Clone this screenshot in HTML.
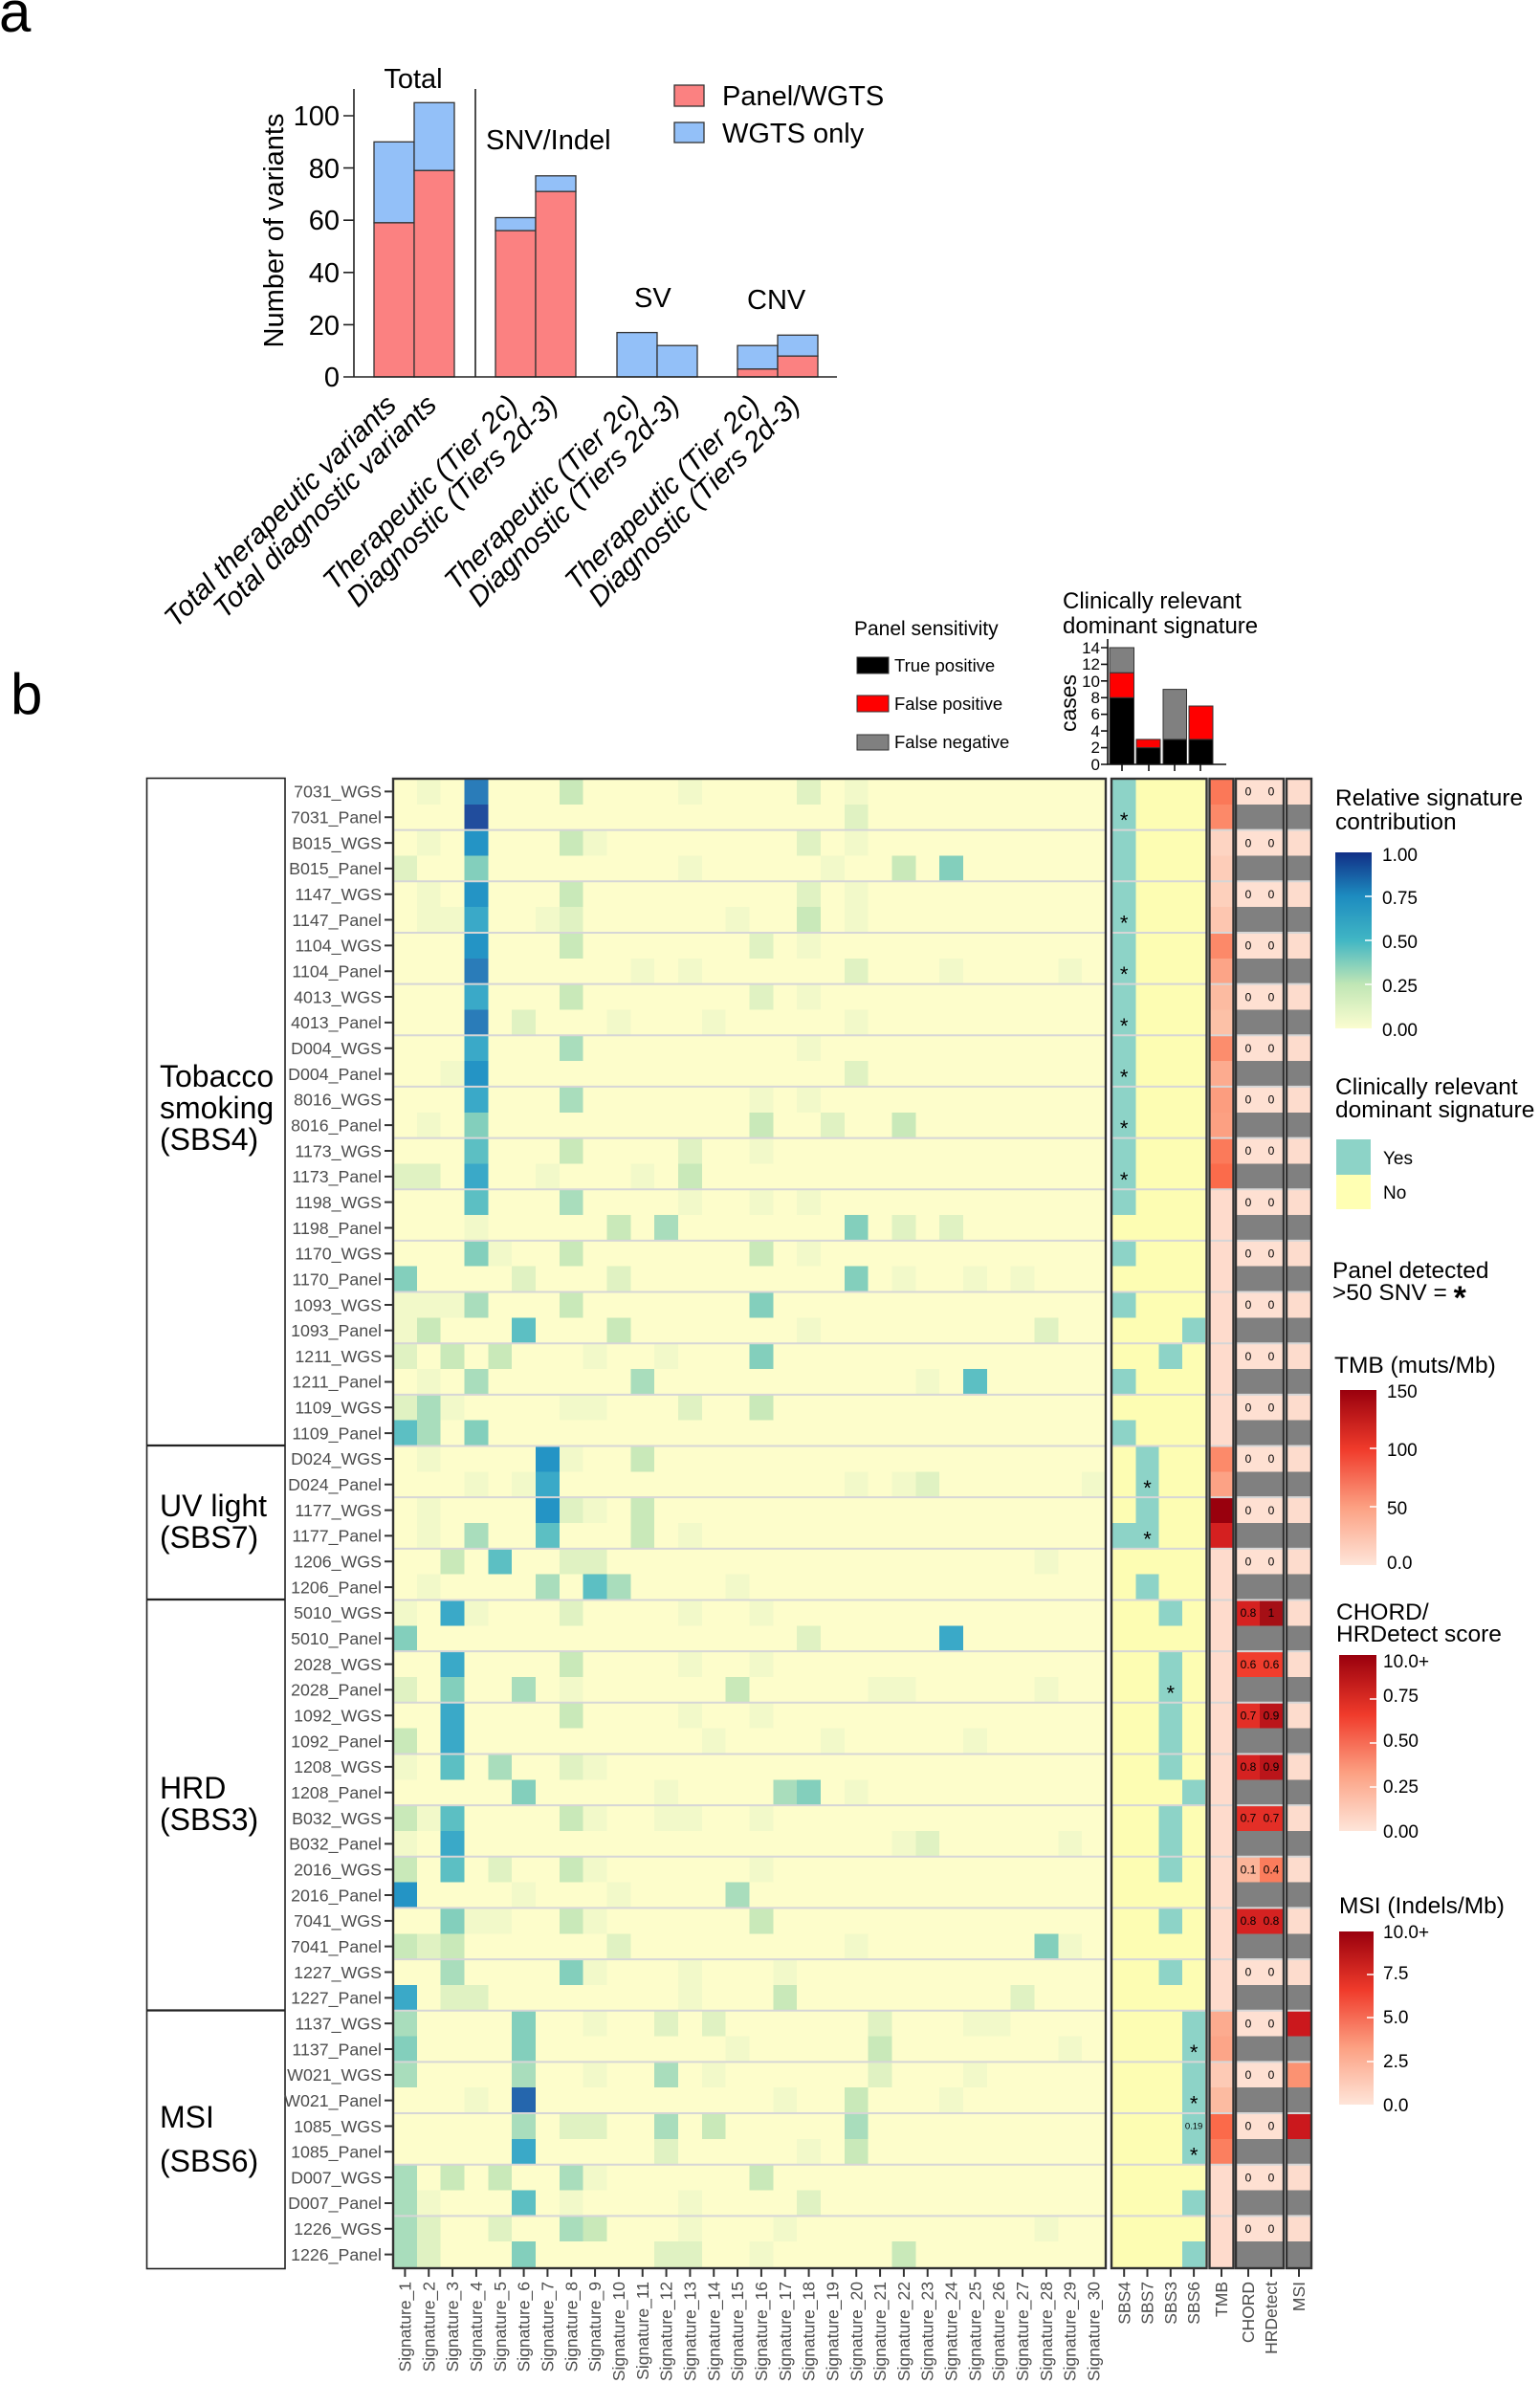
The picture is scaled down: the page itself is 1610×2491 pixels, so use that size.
<!DOCTYPE html>
<html><head><meta charset="utf-8">
<style>
html,body{margin:0;padding:0;background:#fff;}
svg{display:block;font-family:"Liberation Sans",Arial,sans-serif;}
.f{fill:#f2f9c9}.l{fill:#e0f2c2}.g{fill:#c9e9b9}.m{fill:#a9ddbc}.t{fill:#83cfbc}.c{fill:#5cbfc3}.d{fill:#3aa9c8}.b{fill:#2494c5}.k{fill:#2a7cb9}.n{fill:#214d9d}.v{fill:#2566ad}
.rl{font-size:17.8px;fill:#4d4d4d;text-anchor:end}
.xl{font-size:17.5px;fill:#4d4d4d;text-anchor:end}
.lg{font-size:19px;fill:#000}
.lt{font-size:24.5px;fill:#000}
.st{font-size:22px;fill:#000;text-anchor:middle}
.z{font-size:12px;fill:#000;text-anchor:middle}
</style></head>
<body>
<svg width="1610" height="2491" viewBox="0 0 1610 2491" xmlns="http://www.w3.org/2000/svg">
<defs>
<linearGradient id="ylg" x1="0" y1="1" x2="0" y2="0">
<stop offset="0" stop-color="#fbfdd0"/><stop offset="0.25" stop-color="#c0e6b5"/><stop offset="0.5" stop-color="#41b6c4"/><stop offset="0.75" stop-color="#1d8cc0"/><stop offset="1" stop-color="#112f86"/>
</linearGradient>
<linearGradient id="rd" x1="0" y1="1" x2="0" y2="0">
<stop offset="0" stop-color="#fee5d9"/><stop offset="0.33" stop-color="#fca082"/><stop offset="0.66" stop-color="#f03b2b"/><stop offset="1" stop-color="#99000d"/>
</linearGradient>
</defs>

<!-- ============ PANEL A ============ -->
<text x="-1" y="33" font-size="60">a</text>

<g stroke="#333" stroke-width="1.3">
<rect x="391" y="148.3" width="42" height="84.6" fill="#93c0f8"/><rect x="391" y="232.9" width="42" height="161.1" fill="#fb8181"/>
<rect x="433" y="107.3" width="42" height="71" fill="#93c0f8"/><rect x="433" y="178.3" width="42" height="215.7" fill="#fb8181"/>
<rect x="518" y="227.5" width="42" height="13.6" fill="#93c0f8"/><rect x="518" y="241.1" width="42" height="152.9" fill="#fb8181"/>
<rect x="560" y="183.8" width="42" height="16.4" fill="#93c0f8"/><rect x="560" y="200.2" width="42" height="193.8" fill="#fb8181"/>
<rect x="645" y="347.6" width="42" height="46.4" fill="#93c0f8"/>
<rect x="687" y="361.2" width="42" height="32.8" fill="#93c0f8"/>
<rect x="771" y="361.2" width="42" height="24.6" fill="#93c0f8"/><rect x="771" y="385.8" width="42" height="8.2" fill="#fb8181"/>
<rect x="813" y="350.3" width="42" height="21.9" fill="#93c0f8"/><rect x="813" y="372.2" width="42" height="21.8" fill="#fb8181"/>
</g>
<g stroke="#222" stroke-width="1.6" fill="none">
<path d="M370 93V394M359 394H875M497 93V394"/>
<path d="M359 121H370M359 175.6H370M359 230.2H370M359 284.8H370M359 339.4H370"/>
</g>
<g font-size="29" text-anchor="end">
<text x="355" y="131">100</text><text x="355" y="186">80</text><text x="355" y="240">60</text><text x="355" y="295">40</text><text x="355" y="350">20</text><text x="355" y="404">0</text>
</g>
<text transform="translate(296,241) rotate(-90)" font-size="29" text-anchor="middle">Number of variants</text>
<text x="432" y="92" font-size="29" text-anchor="middle">Total</text>
<text x="508" y="156" font-size="29">SNV/Indel</text>
<text x="663" y="321" font-size="29">SV</text>
<text x="781" y="323" font-size="29">CNV</text>
<rect x="705" y="89" width="31" height="22" fill="#fb8181" stroke="#333" stroke-width="1.3"/>
<rect x="705" y="128" width="31" height="21" fill="#93c0f8" stroke="#333" stroke-width="1.3"/>
<text x="755" y="110" font-size="29">Panel/WGTS</text>
<text x="755" y="149" font-size="29">WGTS only</text>
<g font-size="29.5" font-style="italic" text-anchor="end">
<text transform="translate(416,425) rotate(-45)">Total therapeutic variants</text>
<text transform="translate(458,425) rotate(-45)">Total diagnostic variants</text>
<text transform="translate(543,425) rotate(-45)">Therapeutic (Tier 2c)</text>
<text transform="translate(585,425) rotate(-45)">Diagnostic (Tiers 2d-3)</text>
<text transform="translate(670,425) rotate(-45)">Therapeutic (Tier 2c)</text>
<text transform="translate(712,425) rotate(-45)">Diagnostic (Tiers 2d-3)</text>
<text transform="translate(796,425) rotate(-45)">Therapeutic (Tier 2c)</text>
<text transform="translate(838,425) rotate(-45)">Diagnostic (Tiers 2d-3)</text>
</g>

<!-- ============ PANEL B ============ -->
<text x="11" y="746" font-size="60">b</text>

<text x="893" y="664" font-size="21">Panel sensitivity</text>
<rect x="896" y="687" width="33" height="17" fill="#000" stroke="#333"/>
<rect x="896" y="727" width="33" height="17" fill="#ff0000" stroke="#333"/>
<rect x="896" y="768" width="33" height="16" fill="#808080" stroke="#333"/>
<text x="935" y="702" font-size="18.5">True positive</text>
<text x="935" y="742" font-size="18.5">False positive</text>
<text x="935" y="782" font-size="18.5">False negative</text>

<text x="1111" y="636" font-size="24">Clinically relevant</text>
<text x="1111" y="662" font-size="24">dominant signature</text>
<g stroke="#333" stroke-width="1">
<rect x="1160" y="729.3" width="25.5" height="69.7" fill="#000"/><rect x="1160" y="703.2" width="25.5" height="26.1" fill="#ff0000"/><rect x="1160" y="677" width="25.5" height="26.2" fill="#808080"/>
<rect x="1188" y="781.6" width="25" height="17.4" fill="#000"/><rect x="1188" y="772.9" width="25" height="8.7" fill="#ff0000"/>
<rect x="1216" y="772.9" width="24.5" height="26.1" fill="#000"/><rect x="1216" y="720.6" width="24.5" height="52.3" fill="#808080"/>
<rect x="1243" y="772.9" width="25" height="26.1" fill="#000"/><rect x="1243" y="738" width="25" height="34.9" fill="#ff0000"/>
</g>
<g stroke="#111" stroke-width="1.6" fill="none">
<path d="M1158 668V799H1282"/>
<path d="M1151 677H1158M1151 694.4H1158M1151 711.8H1158M1151 729.3H1158M1151 746.7H1158M1151 764.1H1158M1151 781.6H1158M1151 799H1158"/>
<path d="M1173 799V806M1201 799V806M1228 799V806M1255 799V806"/>
</g>
<g font-size="17" text-anchor="end">
<text x="1150" y="683">14</text><text x="1150" y="700">12</text><text x="1150" y="718">10</text><text x="1150" y="735">8</text><text x="1150" y="752">6</text><text x="1150" y="770">4</text><text x="1150" y="787">2</text><text x="1150" y="805">0</text>
</g>
<text transform="translate(1125,735) rotate(-90)" font-size="23" text-anchor="middle">cases</text>

<g stroke="#222" fill="none">
<rect x="153.5" y="813.5" width="144.5" height="1558" stroke-width="1.6"/>
<path d="M153.5 1511H298M153.5 1672H298M153.5 2101.5H298" stroke-width="2.2"/>
</g>
<g font-size="32">
<text x="167" y="1136">Tobacco</text><text x="167" y="1169">smoking</text><text x="167" y="1202">(SBS4)</text>
<text x="167" y="1585">UV light</text><text x="167" y="1618">(SBS7)</text>
<text x="167" y="1880">HRD</text><text x="167" y="1913">(SBS3)</text>
<text x="167" y="2224">MSI</text><text x="167" y="2270">(SBS6)</text>
</g>

<g class="rl">
<text class="rl" x="399" y="833.7">7031_WGS</text><text class="rl" x="399" y="860.5">7031_Panel</text>
<text class="rl" x="399" y="887.4">B015_WGS</text><text class="rl" x="399" y="914.2">B015_Panel</text>
<text class="rl" x="399" y="941.0">1147_WGS</text><text class="rl" x="399" y="967.8">1147_Panel</text>
<text class="rl" x="399" y="994.7">1104_WGS</text><text class="rl" x="399" y="1021.5">1104_Panel</text>
<text class="rl" x="399" y="1048.3">4013_WGS</text><text class="rl" x="399" y="1075.2">4013_Panel</text>
<text class="rl" x="399" y="1102.0">D004_WGS</text><text class="rl" x="399" y="1128.8">D004_Panel</text>
<text class="rl" x="399" y="1155.6">8016_WGS</text><text class="rl" x="399" y="1182.5">8016_Panel</text>
<text class="rl" x="399" y="1209.3">1173_WGS</text><text class="rl" x="399" y="1236.1">1173_Panel</text>
<text class="rl" x="399" y="1262.9">1198_WGS</text><text class="rl" x="399" y="1289.8">1198_Panel</text>
<text class="rl" x="399" y="1316.6">1170_WGS</text><text class="rl" x="399" y="1343.4">1170_Panel</text>
<text class="rl" x="399" y="1370.3">1093_WGS</text><text class="rl" x="399" y="1397.1">1093_Panel</text>
<text class="rl" x="399" y="1423.9">1211_WGS</text><text class="rl" x="399" y="1450.7">1211_Panel</text>
<text class="rl" x="399" y="1477.6">1109_WGS</text><text class="rl" x="399" y="1504.4">1109_Panel</text>
<text class="rl" x="399" y="1531.2">D024_WGS</text><text class="rl" x="399" y="1558.1">D024_Panel</text>
<text class="rl" x="399" y="1584.9">1177_WGS</text><text class="rl" x="399" y="1611.7">1177_Panel</text>
<text class="rl" x="399" y="1638.5">1206_WGS</text><text class="rl" x="399" y="1665.4">1206_Panel</text>
<text class="rl" x="399" y="1692.2">5010_WGS</text><text class="rl" x="399" y="1719.0">5010_Panel</text>
<text class="rl" x="399" y="1745.9">2028_WGS</text><text class="rl" x="399" y="1772.7">2028_Panel</text>
<text class="rl" x="399" y="1799.5">1092_WGS</text><text class="rl" x="399" y="1826.3">1092_Panel</text>
<text class="rl" x="399" y="1853.2">1208_WGS</text><text class="rl" x="399" y="1880.0">1208_Panel</text>
<text class="rl" x="399" y="1906.8">B032_WGS</text><text class="rl" x="399" y="1933.6">B032_Panel</text>
<text class="rl" x="399" y="1960.5">2016_WGS</text><text class="rl" x="399" y="1987.3">2016_Panel</text>
<text class="rl" x="399" y="2014.1">7041_WGS</text><text class="rl" x="399" y="2041.0">7041_Panel</text>
<text class="rl" x="399" y="2067.8">1227_WGS</text><text class="rl" x="399" y="2094.6">1227_Panel</text>
<text class="rl" x="399" y="2121.4">1137_WGS</text><text class="rl" x="399" y="2148.3">1137_Panel</text>
<text class="rl" x="399" y="2175.1">W021_WGS</text><text class="rl" x="399" y="2201.9">W021_Panel</text>
<text class="rl" x="399" y="2228.8">1085_WGS</text><text class="rl" x="399" y="2255.6">1085_Panel</text>
<text class="rl" x="399" y="2282.4">D007_WGS</text><text class="rl" x="399" y="2309.2">D007_Panel</text>
<text class="rl" x="399" y="2336.1">1226_WGS</text><text class="rl" x="399" y="2362.9">1226_Panel</text>
</g>
<g transform="translate(0,814) scale(1,26.828)">
<path fill="none" stroke="#333" stroke-width="2" vector-effect="non-scaling-stroke" d="M402 0.5H411M402 1.5H411M402 2.5H411M402 3.5H411M402 4.5H411M402 5.5H411M402 6.5H411M402 7.5H411M402 8.5H411M402 9.5H411M402 10.5H411M402 11.5H411M402 12.5H411M402 13.5H411M402 14.5H411M402 15.5H411M402 16.5H411M402 17.5H411M402 18.5H411M402 19.5H411M402 20.5H411M402 21.5H411M402 22.5H411M402 23.5H411M402 24.5H411M402 25.5H411M402 26.5H411M402 27.5H411M402 28.5H411M402 29.5H411M402 30.5H411M402 31.5H411M402 32.5H411M402 33.5H411M402 34.5H411M402 35.5H411M402 36.5H411M402 37.5H411M402 38.5H411M402 39.5H411M402 40.5H411M402 41.5H411M402 42.5H411M402 43.5H411M402 44.5H411M402 45.5H411M402 46.5H411M402 47.5H411M402 48.5H411M402 49.5H411M402 50.5H411M402 51.5H411M402 52.5H411M402 53.5H411M402 54.5H411M402 55.5H411M402 56.5H411M402 57.5H411"/>
</g>

<rect x="411" y="814" width="745" height="1556" fill="#fdfdcb"/>
<g transform="translate(411,814) scale(24.833,26.828)" shape-rendering="crispEdges">
<path class="f" d="M1 0h1v1h-1zM12 0h1v1h-1zM19 0h1v1h-1zM1 2h1v1h-1zM8 2h1v1h-1zM19 2h1v1h-1zM12 3h1v1h-1zM18 3h1v1h-1zM1 4h1v1h-1zM19 4h1v1h-1zM1 5h1v1h-1zM2 5h1v1h-1zM6 5h1v1h-1zM14 5h1v1h-1zM19 5h1v1h-1zM17 6h1v1h-1zM10 7h1v1h-1zM12 7h1v1h-1zM23 7h1v1h-1zM28 7h1v1h-1zM17 8h1v1h-1zM9 9h1v1h-1zM13 9h1v1h-1zM19 9h1v1h-1zM17 10h1v1h-1zM2 11h1v1h-1zM15 12h1v1h-1zM17 12h1v1h-1zM1 13h1v1h-1zM15 14h1v1h-1zM6 15h1v1h-1zM10 15h1v1h-1zM12 16h1v1h-1zM15 16h1v1h-1zM17 16h1v1h-1zM3 17h1v1h-1zM4 18h1v1h-1zM17 18h1v1h-1zM21 19h1v1h-1zM24 19h1v1h-1zM26 19h1v1h-1zM0 20h1v1h-1zM1 20h1v1h-1zM2 20h1v1h-1zM0 21h1v1h-1zM17 21h1v1h-1zM8 22h1v1h-1zM11 22h1v1h-1zM1 23h1v1h-1zM22 23h1v1h-1zM2 24h1v1h-1zM7 24h1v1h-1zM8 24h1v1h-1zM1 26h1v1h-1zM7 26h1v1h-1zM3 27h1v1h-1zM5 27h1v1h-1zM19 27h1v1h-1zM21 27h1v1h-1zM29 27h1v1h-1zM1 28h1v1h-1zM8 28h1v1h-1zM1 29h1v1h-1zM12 29h1v1h-1zM27 30h1v1h-1zM1 31h1v1h-1zM14 31h1v1h-1zM0 32h1v1h-1zM3 32h1v1h-1zM12 32h1v1h-1zM15 32h1v1h-1zM12 34h1v1h-1zM15 34h1v1h-1zM7 35h1v1h-1zM20 35h1v1h-1zM21 35h1v1h-1zM27 35h1v1h-1zM12 36h1v1h-1zM15 36h1v1h-1zM13 37h1v1h-1zM18 37h1v1h-1zM24 37h1v1h-1zM0 38h1v1h-1zM8 38h1v1h-1zM11 39h1v1h-1zM19 39h1v1h-1zM1 40h1v1h-1zM8 40h1v1h-1zM11 40h1v1h-1zM12 40h1v1h-1zM15 40h1v1h-1zM0 41h1v1h-1zM21 41h1v1h-1zM28 41h1v1h-1zM8 42h1v1h-1zM15 42h1v1h-1zM5 43h1v1h-1zM9 43h1v1h-1zM3 44h1v1h-1zM4 44h1v1h-1zM8 44h1v1h-1zM19 45h1v1h-1zM28 45h1v1h-1zM8 46h1v1h-1zM12 46h1v1h-1zM16 46h1v1h-1zM12 47h1v1h-1zM8 48h1v1h-1zM24 48h1v1h-1zM25 48h1v1h-1zM14 49h1v1h-1zM28 49h1v1h-1zM8 50h1v1h-1zM13 50h1v1h-1zM24 50h1v1h-1zM3 51h1v1h-1zM16 51h1v1h-1zM23 51h1v1h-1zM17 53h1v1h-1zM8 54h1v1h-1zM1 55h1v1h-1zM7 55h1v1h-1zM12 55h1v1h-1zM12 56h1v1h-1zM16 56h1v1h-1zM27 56h1v1h-1zM15 57h1v1h-1z"/>
<path class="l" d="M17 0h1v1h-1zM19 1h1v1h-1zM17 2h1v1h-1zM0 3h1v1h-1zM17 4h1v1h-1zM7 5h1v1h-1zM15 6h1v1h-1zM19 7h1v1h-1zM15 8h1v1h-1zM5 9h1v1h-1zM19 11h1v1h-1zM18 13h1v1h-1zM12 14h1v1h-1zM0 15h1v1h-1zM1 15h1v1h-1zM21 17h1v1h-1zM23 17h1v1h-1zM5 19h1v1h-1zM9 19h1v1h-1zM27 21h1v1h-1zM0 22h1v1h-1zM0 24h1v1h-1zM12 24h1v1h-1zM22 27h1v1h-1zM7 28h1v1h-1zM7 30h1v1h-1zM8 30h1v1h-1zM7 32h1v1h-1zM17 33h1v1h-1zM0 35h1v1h-1zM7 38h1v1h-1zM22 41h1v1h-1zM4 42h1v1h-1zM1 45h1v1h-1zM9 45h1v1h-1zM2 47h1v1h-1zM3 47h1v1h-1zM26 47h1v1h-1zM11 48h1v1h-1zM13 48h1v1h-1zM20 48h1v1h-1zM20 50h1v1h-1zM7 52h1v1h-1zM8 52h1v1h-1zM11 53h1v1h-1zM17 55h1v1h-1zM1 56h1v1h-1zM4 56h1v1h-1zM1 57h1v1h-1zM11 57h1v1h-1zM12 57h1v1h-1z"/>
<path class="g" d="M7 0h1v1h-1zM7 2h1v1h-1zM21 3h1v1h-1zM7 4h1v1h-1zM17 5h1v1h-1zM7 6h1v1h-1zM7 8h1v1h-1zM15 13h1v1h-1zM21 13h1v1h-1zM7 14h1v1h-1zM12 15h1v1h-1zM9 17h1v1h-1zM7 18h1v1h-1zM15 18h1v1h-1zM7 20h1v1h-1zM1 21h1v1h-1zM9 21h1v1h-1zM2 22h1v1h-1zM4 22h1v1h-1zM15 24h1v1h-1zM10 26h1v1h-1zM10 28h1v1h-1zM10 29h1v1h-1zM2 30h1v1h-1zM7 34h1v1h-1zM14 35h1v1h-1zM7 36h1v1h-1zM0 37h1v1h-1zM0 40h1v1h-1zM7 40h1v1h-1zM0 42h1v1h-1zM7 42h1v1h-1zM7 44h1v1h-1zM15 44h1v1h-1zM0 45h1v1h-1zM2 45h1v1h-1zM16 47h1v1h-1zM20 49h1v1h-1zM19 51h1v1h-1zM13 52h1v1h-1zM19 53h1v1h-1zM2 54h1v1h-1zM4 54h1v1h-1zM15 54h1v1h-1zM8 56h1v1h-1zM21 57h1v1h-1z"/>
<path class="m" d="M7 10h1v1h-1zM7 12h1v1h-1zM7 16h1v1h-1zM11 17h1v1h-1zM3 20h1v1h-1zM3 23h1v1h-1zM10 23h1v1h-1zM1 24h1v1h-1zM1 25h1v1h-1zM3 29h1v1h-1zM6 31h1v1h-1zM9 31h1v1h-1zM5 35h1v1h-1zM4 38h1v1h-1zM16 39h1v1h-1zM14 43h1v1h-1zM2 46h1v1h-1zM0 48h1v1h-1zM0 50h1v1h-1zM5 50h1v1h-1zM11 50h1v1h-1zM5 52h1v1h-1zM11 52h1v1h-1zM19 52h1v1h-1zM0 54h1v1h-1zM7 54h1v1h-1zM0 55h1v1h-1zM0 56h1v1h-1zM7 56h1v1h-1zM0 57h1v1h-1z"/>
<path class="t" d="M3 3h1v1h-1zM23 3h1v1h-1zM3 13h1v1h-1zM19 17h1v1h-1zM3 18h1v1h-1zM0 19h1v1h-1zM19 19h1v1h-1zM15 20h1v1h-1zM15 22h1v1h-1zM3 25h1v1h-1zM0 33h1v1h-1zM2 35h1v1h-1zM5 39h1v1h-1zM17 39h1v1h-1zM2 44h1v1h-1zM27 45h1v1h-1zM7 46h1v1h-1zM5 48h1v1h-1zM0 49h1v1h-1zM5 49h1v1h-1zM5 57h1v1h-1z"/>
<path class="c" d="M3 14h1v1h-1zM3 16h1v1h-1zM5 21h1v1h-1zM24 23h1v1h-1zM0 25h1v1h-1zM6 29h1v1h-1zM4 30h1v1h-1zM8 31h1v1h-1zM2 38h1v1h-1zM2 40h1v1h-1zM2 42h1v1h-1zM5 55h1v1h-1z"/>
<path class="d" d="M3 5h1v1h-1zM3 8h1v1h-1zM3 10h1v1h-1zM3 12h1v1h-1zM3 15h1v1h-1zM6 27h1v1h-1zM2 32h1v1h-1zM23 33h1v1h-1zM2 34h1v1h-1zM2 36h1v1h-1zM2 37h1v1h-1zM2 41h1v1h-1zM0 47h1v1h-1zM5 53h1v1h-1z"/>
<path class="b" d="M3 2h1v1h-1zM3 4h1v1h-1zM3 6h1v1h-1zM3 11h1v1h-1zM6 26h1v1h-1zM6 28h1v1h-1zM0 43h1v1h-1z"/>
<path class="k" d="M3 0h1v1h-1zM3 7h1v1h-1zM3 9h1v1h-1z"/>
<path class="n" d="M3 1h1v1h-1z"/>
<path class="v" d="M5 51h1v1h-1z"/>
</g>

<rect x="1163" y="814" width="97.2" height="1556" fill="#fdfdb3"/>
<g transform="translate(1163,814) scale(24.3,26.828)" fill="#8dd3c7" shape-rendering="crispEdges">
<rect x="0" y="0" width="1" height="17"/><rect x="0" y="18" width="1" height="1"/><rect x="0" y="20" width="1" height="1"/>
<rect x="3" y="21" width="1" height="1"/><rect x="2" y="22" width="1" height="1"/><rect x="0" y="23" width="1" height="1"/><rect x="0" y="25" width="1" height="1"/>
<rect x="1" y="26" width="1" height="4"/><rect x="0" y="29" width="1" height="1"/><rect x="1" y="31" width="1" height="1"/>
<rect x="2" y="32" width="1" height="1"/><rect x="2" y="34" width="1" height="5"/><rect x="3" y="39" width="1" height="1"/>
<rect x="2" y="40" width="1" height="3"/><rect x="2" y="44" width="1" height="1"/><rect x="2" y="46" width="1" height="1"/>
<rect x="3" y="48" width="1" height="6"/><rect x="3" y="55" width="1" height="1"/><rect x="3" y="57" width="1" height="1"/>
</g>

<g transform="translate(1265.5,814) scale(23.5,26.828)" shape-rendering="crispEdges">
<rect x="0" y="0" width="1" height="58" fill="#fedbcc"/>
<rect y="0" width="1" height="1" fill="#fb7858"/><rect y="1" width="1" height="1" fill="#fc8969"/>
<rect y="2" width="1" height="1" fill="#fdd4c2"/><rect y="3" width="1" height="1" fill="#fdcdb9"/>
<rect y="4" width="1" height="1" fill="#fdd0bc"/><rect y="5" width="1" height="1" fill="#fdc6b0"/>
<rect y="6" width="1" height="1" fill="#fc8969"/><rect y="7" width="1" height="1" fill="#fca487"/>
<rect y="8" width="1" height="1" fill="#fcbba1"/><rect y="9" width="1" height="1" fill="#fcc1a7"/>
<rect y="10" width="1" height="1" fill="#fc8d6d"/><rect y="11" width="1" height="1" fill="#fcab8f"/>
<rect y="12" width="1" height="1" fill="#fc9d7f"/><rect y="13" width="1" height="1" fill="#fca082"/>
<rect y="14" width="1" height="1" fill="#fb7a5a"/><rect y="15" width="1" height="1" fill="#fb6b4b"/>
<rect y="26" width="1" height="1" fill="#fc8a6a"/><rect y="27" width="1" height="1" fill="#fca285"/>
<rect y="28" width="1" height="1" fill="#99000d"/><rect y="29" width="1" height="1" fill="#d42020"/>
<rect y="48" width="1" height="1" fill="#fcab8f"/><rect y="49" width="1" height="1" fill="#fca588"/>
<rect y="50" width="1" height="1" fill="#fdcab5"/><rect y="51" width="1" height="1" fill="#fcbba1"/>
<rect y="52" width="1" height="1" fill="#fb6a4a"/><rect y="53" width="1" height="1" fill="#fb7f5f"/>
</g>

<g transform="translate(1293,814) scale(24,26.828)" shape-rendering="crispEdges">
<rect x="0" y="0" width="2" height="58" fill="#fee0d2"/>
<path fill="#808080" d="M0 1h2v1h-2zM0 3h2v1h-2zM0 5h2v1h-2zM0 7h2v1h-2zM0 9h2v1h-2zM0 11h2v1h-2zM0 13h2v1h-2zM0 15h2v1h-2zM0 17h2v1h-2zM0 19h2v1h-2zM0 21h2v1h-2zM0 23h2v1h-2zM0 25h2v1h-2zM0 27h2v1h-2zM0 29h2v1h-2zM0 31h2v1h-2zM0 33h2v1h-2zM0 35h2v1h-2zM0 37h2v1h-2zM0 39h2v1h-2zM0 41h2v1h-2zM0 43h2v1h-2zM0 45h2v1h-2zM0 47h2v1h-2zM0 49h2v1h-2zM0 51h2v1h-2zM0 53h2v1h-2zM0 55h2v1h-2zM0 57h2v1h-2z"/>
<rect x="0" y="32" width="1" height="1" fill="#d52221"/><rect x="1" y="32" width="1" height="1" fill="#a50f15"/>
<rect x="0" y="34" width="1" height="1" fill="#f03d2d"/><rect x="1" y="34" width="1" height="1" fill="#f03d2d"/>
<rect x="0" y="36" width="1" height="1" fill="#e32f27"/><rect x="1" y="36" width="1" height="1" fill="#bb151a"/>
<rect x="0" y="38" width="1" height="1" fill="#d52221"/><rect x="1" y="38" width="1" height="1" fill="#bb151a"/>
<rect x="0" y="40" width="1" height="1" fill="#e32f27"/><rect x="1" y="40" width="1" height="1" fill="#e32f27"/>
<rect x="0" y="42" width="1" height="1" fill="#fcb499"/><rect x="1" y="42" width="1" height="1" fill="#fb7c5c"/>
<rect x="0" y="44" width="1" height="1" fill="#d52221"/><rect x="1" y="44" width="1" height="1" fill="#d52221"/>
</g>

<g transform="translate(1346,814) scale(24,26.828)" shape-rendering="crispEdges">
<rect x="0" y="0" width="1" height="58" fill="#fddccd"/>
<path fill="#808080" d="M0 1h1v1h-1zM0 3h1v1h-1zM0 5h1v1h-1zM0 7h1v1h-1zM0 9h1v1h-1zM0 11h1v1h-1zM0 13h1v1h-1zM0 15h1v1h-1zM0 17h1v1h-1zM0 19h1v1h-1zM0 21h1v1h-1zM0 23h1v1h-1zM0 25h1v1h-1zM0 27h1v1h-1zM0 29h1v1h-1zM0 31h1v1h-1zM0 33h1v1h-1zM0 35h1v1h-1zM0 37h1v1h-1zM0 39h1v1h-1zM0 41h1v1h-1zM0 43h1v1h-1zM0 45h1v1h-1zM0 47h1v1h-1zM0 49h1v1h-1zM0 51h1v1h-1zM0 53h1v1h-1zM0 55h1v1h-1zM0 57h1v1h-1z"/>
<rect y="48" width="1" height="1" fill="#cb181d"/><rect y="50" width="1" height="1" fill="#fb9272"/><rect y="52" width="1" height="1" fill="#cb181d"/>
</g>

<g transform="translate(0,814) scale(1,26.828)">
<path fill="none" stroke="#d6d6d6" stroke-width="2" vector-effect="non-scaling-stroke" d="M411 2H1156M1163 2H1261M1265 2H1289M1293 2H1341M1346 2H1370M411 4H1156M1163 4H1261M1265 4H1289M1293 4H1341M1346 4H1370M411 6H1156M1163 6H1261M1265 6H1289M1293 6H1341M1346 6H1370M411 8H1156M1163 8H1261M1265 8H1289M1293 8H1341M1346 8H1370M411 10H1156M1163 10H1261M1265 10H1289M1293 10H1341M1346 10H1370M411 12H1156M1163 12H1261M1265 12H1289M1293 12H1341M1346 12H1370M411 14H1156M1163 14H1261M1265 14H1289M1293 14H1341M1346 14H1370M411 16H1156M1163 16H1261M1265 16H1289M1293 16H1341M1346 16H1370M411 18H1156M1163 18H1261M1265 18H1289M1293 18H1341M1346 18H1370M411 20H1156M1163 20H1261M1265 20H1289M1293 20H1341M1346 20H1370M411 22H1156M1163 22H1261M1265 22H1289M1293 22H1341M1346 22H1370M411 24H1156M1163 24H1261M1265 24H1289M1293 24H1341M1346 24H1370M411 26H1156M1163 26H1261M1265 26H1289M1293 26H1341M1346 26H1370M411 28H1156M1163 28H1261M1265 28H1289M1293 28H1341M1346 28H1370M411 30H1156M1163 30H1261M1265 30H1289M1293 30H1341M1346 30H1370M411 32H1156M1163 32H1261M1265 32H1289M1293 32H1341M1346 32H1370M411 34H1156M1163 34H1261M1265 34H1289M1293 34H1341M1346 34H1370M411 36H1156M1163 36H1261M1265 36H1289M1293 36H1341M1346 36H1370M411 38H1156M1163 38H1261M1265 38H1289M1293 38H1341M1346 38H1370M411 40H1156M1163 40H1261M1265 40H1289M1293 40H1341M1346 40H1370M411 42H1156M1163 42H1261M1265 42H1289M1293 42H1341M1346 42H1370M411 44H1156M1163 44H1261M1265 44H1289M1293 44H1341M1346 44H1370M411 46H1156M1163 46H1261M1265 46H1289M1293 46H1341M1346 46H1370M411 48H1156M1163 48H1261M1265 48H1289M1293 48H1341M1346 48H1370M411 50H1156M1163 50H1261M1265 50H1289M1293 50H1341M1346 50H1370M411 52H1156M1163 52H1261M1265 52H1289M1293 52H1341M1346 52H1370M411 54H1156M1163 54H1261M1265 54H1289M1293 54H1341M1346 54H1370M411 56H1156M1163 56H1261M1265 56H1289M1293 56H1341M1346 56H1370"/>
</g>

<g fill="none" stroke="#333" stroke-width="2.4">
<rect x="411" y="814" width="745" height="1557"/>
<rect x="1162" y="814" width="99.5" height="1557"/>
<rect x="1264.5" y="814" width="25" height="1557"/>
<rect x="1292" y="814" width="50" height="1557"/>
<rect x="1345" y="814" width="26" height="1557"/>
</g>

<g class="st">
<text class="st" x="1175.2" y="865">*</text><text class="st" x="1175.2" y="972.5">*</text><text class="st" x="1175.2" y="1026">*</text>
<text class="st" x="1175.2" y="1080">*</text><text class="st" x="1175.2" y="1133.5">*</text><text class="st" x="1175.2" y="1187">*</text>
<text class="st" x="1175.2" y="1241">*</text><text class="st" x="1199.5" y="1563">*</text><text class="st" x="1199.5" y="1616.5">*</text>
<text class="st" x="1223.8" y="1777.5">*</text><text class="st" x="1248.1" y="2153">*</text><text class="st" x="1248.1" y="2206.5">*</text>
<text class="st" x="1248.1" y="2260.5">*</text>
</g>
<text x="1248.1" y="2225.5" font-size="9.5" text-anchor="middle">0.19</text>

<g class="z">
<text class="z" x="1305" y="831.6">0</text><text class="z" x="1329" y="831.6">0</text>
<text class="z" x="1305" y="885.3">0</text><text class="z" x="1329" y="885.3">0</text>
<text class="z" x="1305" y="938.9">0</text><text class="z" x="1329" y="938.9">0</text>
<text class="z" x="1305" y="992.6">0</text><text class="z" x="1329" y="992.6">0</text>
<text class="z" x="1305" y="1046.3">0</text><text class="z" x="1329" y="1046.3">0</text>
<text class="z" x="1305" y="1099.9">0</text><text class="z" x="1329" y="1099.9">0</text>
<text class="z" x="1305" y="1153.6">0</text><text class="z" x="1329" y="1153.6">0</text>
<text class="z" x="1305" y="1207.2">0</text><text class="z" x="1329" y="1207.2">0</text>
<text class="z" x="1305" y="1260.9">0</text><text class="z" x="1329" y="1260.9">0</text>
<text class="z" x="1305" y="1314.5">0</text><text class="z" x="1329" y="1314.5">0</text>
<text class="z" x="1305" y="1368.2">0</text><text class="z" x="1329" y="1368.2">0</text>
<text class="z" x="1305" y="1421.8">0</text><text class="z" x="1329" y="1421.8">0</text>
<text class="z" x="1305" y="1475.5">0</text><text class="z" x="1329" y="1475.5">0</text>
<text class="z" x="1305" y="1529.2">0</text><text class="z" x="1329" y="1529.2">0</text>
<text class="z" x="1305" y="1582.8">0</text><text class="z" x="1329" y="1582.8">0</text>
<text class="z" x="1305" y="1636.5">0</text><text class="z" x="1329" y="1636.5">0</text>
<text class="z" x="1305" y="1690.1">0.8</text><text class="z" x="1329" y="1690.1">1</text>
<text class="z" x="1305" y="1743.8">0.6</text><text class="z" x="1329" y="1743.8">0.6</text>
<text class="z" x="1305" y="1797.4">0.7</text><text class="z" x="1329" y="1797.4">0.9</text>
<text class="z" x="1305" y="1851.1">0.8</text><text class="z" x="1329" y="1851.1">0.9</text>
<text class="z" x="1305" y="1904.7">0.7</text><text class="z" x="1329" y="1904.7">0.7</text>
<text class="z" x="1305" y="1958.4">0.1</text><text class="z" x="1329" y="1958.4">0.4</text>
<text class="z" x="1305" y="2012.0">0.8</text><text class="z" x="1329" y="2012.0">0.8</text>
<text class="z" x="1305" y="2065.7">0</text><text class="z" x="1329" y="2065.7">0</text>
<text class="z" x="1305" y="2119.4">0</text><text class="z" x="1329" y="2119.4">0</text>
<text class="z" x="1305" y="2173.0">0</text><text class="z" x="1329" y="2173.0">0</text>
<text class="z" x="1305" y="2226.7">0</text><text class="z" x="1329" y="2226.7">0</text>
<text class="z" x="1305" y="2280.3">0</text><text class="z" x="1329" y="2280.3">0</text>
<text class="z" x="1305" y="2334.0">0</text><text class="z" x="1329" y="2334.0">0</text>
</g>

<g transform="translate(411,0) scale(24.833,1)">
<path fill="none" stroke="#333" stroke-width="2" vector-effect="non-scaling-stroke" d="M0.5 2372V2380M1.5 2372V2380M2.5 2372V2380M3.5 2372V2380M4.5 2372V2380M5.5 2372V2380M6.5 2372V2380M7.5 2372V2380M8.5 2372V2380M9.5 2372V2380M10.5 2372V2380M11.5 2372V2380M12.5 2372V2380M13.5 2372V2380M14.5 2372V2380M15.5 2372V2380M16.5 2372V2380M17.5 2372V2380M18.5 2372V2380M19.5 2372V2380M20.5 2372V2380M21.5 2372V2380M22.5 2372V2380M23.5 2372V2380M24.5 2372V2380M25.5 2372V2380M26.5 2372V2380M27.5 2372V2380M28.5 2372V2380M29.5 2372V2380"/>
</g>
<path fill="none" stroke="#333" stroke-width="2" d="M1175.2 2372V2380M1199.5 2372V2380M1223.8 2372V2380M1248.1 2372V2380M1277 2372V2380M1305 2372V2380M1329 2372V2380M1358 2372V2380"/>

<g class="xl">
<text class="xl" transform="translate(423.4,2385) rotate(-90)" dy="0.35em">Signature_1</text>
<text class="xl" transform="translate(448.3,2385) rotate(-90)" dy="0.35em">Signature_2</text>
<text class="xl" transform="translate(473.1,2385) rotate(-90)" dy="0.35em">Signature_3</text>
<text class="xl" transform="translate(497.9,2385) rotate(-90)" dy="0.35em">Signature_4</text>
<text class="xl" transform="translate(522.7,2385) rotate(-90)" dy="0.35em">Signature_5</text>
<text class="xl" transform="translate(547.6,2385) rotate(-90)" dy="0.35em">Signature_6</text>
<text class="xl" transform="translate(572.4,2385) rotate(-90)" dy="0.35em">Signature_7</text>
<text class="xl" transform="translate(597.2,2385) rotate(-90)" dy="0.35em">Signature_8</text>
<text class="xl" transform="translate(622.1,2385) rotate(-90)" dy="0.35em">Signature_9</text>
<text class="xl" transform="translate(646.9,2385) rotate(-90)" dy="0.35em">Signature_10</text>
<text class="xl" transform="translate(671.7,2385) rotate(-90)" dy="0.35em">Signature_11</text>
<text class="xl" transform="translate(696.5,2385) rotate(-90)" dy="0.35em">Signature_12</text>
<text class="xl" transform="translate(721.4,2385) rotate(-90)" dy="0.35em">Signature_13</text>
<text class="xl" transform="translate(746.2,2385) rotate(-90)" dy="0.35em">Signature_14</text>
<text class="xl" transform="translate(771.0,2385) rotate(-90)" dy="0.35em">Signature_15</text>
<text class="xl" transform="translate(795.8,2385) rotate(-90)" dy="0.35em">Signature_16</text>
<text class="xl" transform="translate(820.7,2385) rotate(-90)" dy="0.35em">Signature_17</text>
<text class="xl" transform="translate(845.5,2385) rotate(-90)" dy="0.35em">Signature_18</text>
<text class="xl" transform="translate(870.3,2385) rotate(-90)" dy="0.35em">Signature_19</text>
<text class="xl" transform="translate(895.2,2385) rotate(-90)" dy="0.35em">Signature_20</text>
<text class="xl" transform="translate(920.0,2385) rotate(-90)" dy="0.35em">Signature_21</text>
<text class="xl" transform="translate(944.8,2385) rotate(-90)" dy="0.35em">Signature_22</text>
<text class="xl" transform="translate(969.6,2385) rotate(-90)" dy="0.35em">Signature_23</text>
<text class="xl" transform="translate(994.5,2385) rotate(-90)" dy="0.35em">Signature_24</text>
<text class="xl" transform="translate(1019.3,2385) rotate(-90)" dy="0.35em">Signature_25</text>
<text class="xl" transform="translate(1044.1,2385) rotate(-90)" dy="0.35em">Signature_26</text>
<text class="xl" transform="translate(1068.9,2385) rotate(-90)" dy="0.35em">Signature_27</text>
<text class="xl" transform="translate(1093.8,2385) rotate(-90)" dy="0.35em">Signature_28</text>
<text class="xl" transform="translate(1118.6,2385) rotate(-90)" dy="0.35em">Signature_29</text>
<text class="xl" transform="translate(1143.4,2385) rotate(-90)" dy="0.35em">Signature_30</text>
<text class="xl" transform="translate(1175.2,2385) rotate(-90)" dy="0.35em">SBS4</text>
<text class="xl" transform="translate(1199.5,2385) rotate(-90)" dy="0.35em">SBS7</text>
<text class="xl" transform="translate(1223.8,2385) rotate(-90)" dy="0.35em">SBS3</text>
<text class="xl" transform="translate(1248.1,2385) rotate(-90)" dy="0.35em">SBS6</text>
<text class="xl" transform="translate(1277,2385) rotate(-90)" dy="0.35em">TMB</text>
<text class="xl" transform="translate(1305,2385) rotate(-90)" dy="0.35em">CHORD</text>
<text class="xl" transform="translate(1329,2385) rotate(-90)" dy="0.35em">HRDetect</text>
<text class="xl" transform="translate(1358,2385) rotate(-90)" dy="0.35em">MSI</text>
</g>

<text class="lt" x="1396" y="842">Relative signature</text>
<text class="lt" x="1396" y="867">contribution</text>
<rect x="1396" y="891" width="38" height="184" fill="url(#ylg)"/>
<path d="M1427 937H1434M1427 983H1434M1427 1029H1434" stroke="#fff" stroke-width="1.5"/>
<g class="lg"><text class="lg" x="1445" y="900">1.00</text><text class="lg" x="1445" y="945">0.75</text><text class="lg" x="1445" y="991">0.50</text><text class="lg" x="1445" y="1037">0.25</text><text class="lg" x="1445" y="1083">0.00</text></g>

<text class="lt" x="1396" y="1144">Clinically relevant</text>
<text class="lt" x="1396" y="1168">dominant signature</text>
<rect x="1397" y="1191" width="36" height="37" fill="#8dd3c7"/>
<rect x="1397" y="1228" width="36" height="36" fill="#ffffb3"/>
<text class="lg" x="1446" y="1217">Yes</text>
<text class="lg" x="1446" y="1253">No</text>

<text class="lt" x="1393" y="1336">Panel detected</text>
<text class="lt" x="1393" y="1359"> &gt;50 SNV = <tspan font-size="34" font-weight="bold" dy="9">*</tspan></text>

<text class="lt" x="1395" y="1435">TMB (muts/Mb)</text>
<rect x="1401" y="1453" width="38" height="183" fill="url(#rd)"/>
<path d="M1432 1514H1439M1432 1575H1439" stroke="#fff" stroke-width="1.5"/>
<g class="lg"><text class="lg" x="1450" y="1461">150</text><text class="lg" x="1450" y="1522">100</text><text class="lg" x="1450" y="1583">50</text><text class="lg" x="1450" y="1640">0.0</text></g>

<text class="lt" x="1397" y="1693">CHORD/</text>
<text class="lt" x="1397" y="1716">HRDetect score</text>
<rect x="1400" y="1730" width="39" height="184" fill="url(#rd)"/>
<path d="M1432 1776H1439M1432 1822H1439M1432 1868H1439" stroke="#fff" stroke-width="1.5"/>
<g class="lg"><text class="lg" x="1446" y="1743">10.0+</text><text class="lg" x="1446" y="1779">0.75</text><text class="lg" x="1446" y="1826">0.50</text><text class="lg" x="1446" y="1874">0.25</text><text class="lg" x="1446" y="1921">0.00</text></g>

<text class="lt" x="1400" y="2000">MSI (Indels/Mb)</text>
<rect x="1400" y="2019" width="36" height="181" fill="url(#rd)"/>
<path d="M1429 2064H1436M1429 2109H1436M1429 2155H1436" stroke="#fff" stroke-width="1.5"/>
<g class="lg"><text class="lg" x="1446" y="2026">10.0+</text><text class="lg" x="1446" y="2069">7.5</text><text class="lg" x="1446" y="2115">5.0</text><text class="lg" x="1446" y="2161">2.5</text><text class="lg" x="1446" y="2207">0.0</text></g>

</svg>
</body></html>
